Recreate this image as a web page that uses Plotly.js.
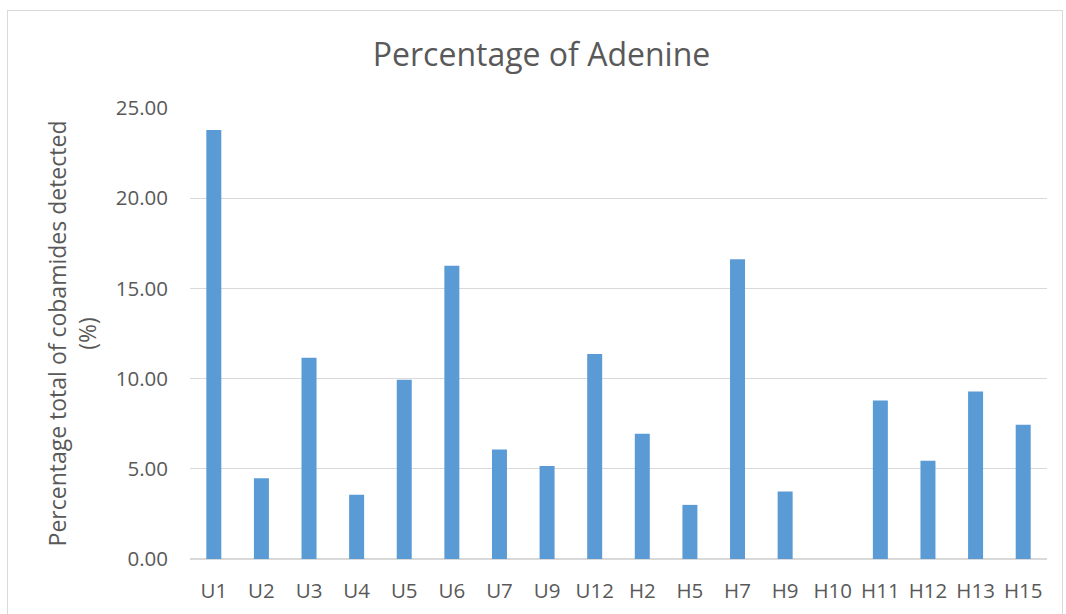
<!DOCTYPE html>
<html>
<head>
<meta charset="utf-8">
<script src="https://cdn.plot.ly/plotly-3.0.1.min.js"></script>
<style>
  html, body { margin: 0; padding: 0; background: #ffffff; }
  #wrap { position: relative; width: 1066px; height: 614px; overflow: hidden; }
  #chart { position: absolute; left: 0; top: 0; width: 1066px; height: 614px; }
  #frame { position: absolute; left: 7px; top: 10px; width: 1054px; height: 620px;
           border: 1px solid #d9d9d9; pointer-events: none; }
</style>
</head>
<body>
<div id="wrap">
  <div id="chart"></div>
  <div id="frame"></div>
</div>
<script>
const categories = ["U1","U2","U3","U4","U5","U6","U7","U9","U12","H2","H5","H7","H9","H10","H11","H12","H13","H15"];
const adenine = [23.78, 4.48, 11.15, 3.56, 9.93, 16.26, 6.07, 5.15, 11.37, 6.94, 3.00, 16.61, 3.74, 0, 8.78, 5.44, 9.28, 7.44];
const yTickVals = [0, 5, 10, 15, 20, 25];
const yTickText = ["0.00", "5.00", "10.00", "15.00", "20.00", "25.00"];

const font = "'Open Sans', 'Noto Sans', sans-serif";
const textColor = "#595959";

const trace = {
  type: "bar",
  x: categories,
  y: adenine,
  marker: { color: "#5b9bd5", line: { width: 0 } },
  hoverinfo: "x+y"
};

const layout = {
  width: 1066,
  height: 614,
  paper_bgcolor: "#ffffff",
  plot_bgcolor: "#ffffff",
  margin: { l: 190, r: 19, t: 108, b: 55 },
  bargap: 0.685,
  showlegend: false,
  font: { family: font, color: textColor, size: 20 },
  title: {
    text: "Percentage of Adenine",
    font: { family: font, size: 32, color: textColor },
    xref: "container", x: 0.508, xanchor: "center",
    yref: "container", y: 1 - 55 / 614, yanchor: "middle"
  },
  xaxis: {
    type: "category",
    tickfont: { family: font, size: 20.5, color: textColor },
    showgrid: false,
    showline: false,
    zeroline: false,
    ticks: "",
    ticklabelstandoff: 17,
    fixedrange: true
  },
  yaxis: {
    range: [0, 25],
    tickvals: yTickVals,
    ticktext: yTickText,
    tickfont: { family: font, size: 20.5, color: textColor },
    showgrid: true,
    gridcolor: "#d9d9d9",
    gridwidth: 1.3,
    zeroline: true,
    zerolinecolor: "#d9d9d9",
    zerolinewidth: 1.3,
    showline: false,
    ticks: "",
    ticklabelstandoff: 21,
    fixedrange: true,
    title: {
      text: "Percentage total of cobamides detected<br>(%)",
      font: { family: font, size: 23, color: textColor },
      standoff: 12
    }
  }
};

Plotly.newPlot("chart", [trace], layout, { displayModeBar: false, staticPlot: true });
</script>
</body>
</html>
